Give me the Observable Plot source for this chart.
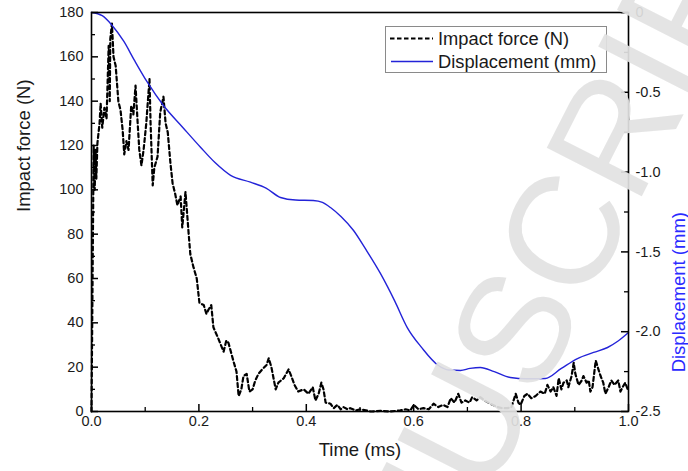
<!DOCTYPE html>
<html>
<head>
<meta charset="utf-8">
<script src="https://cdn.jsdelivr.net/npm/d3@7"></script>
<script src="https://cdn.jsdelivr.net/npm/@observablehq/plot@0.6"></script>
<style>
  html, body { margin: 0; padding: 0; background: #fff; }
  #wrap { position: relative; width: 688px; height: 471px; overflow: hidden; }
  #overlay { position: absolute; left: 0; top: 0; pointer-events: none; }
</style>
</head>
<body>
<div id="wrap"><div id="chart"></div></div>
<script>
// ---------- data ----------
const forceT = [0,0.002,0.004,0.006,0.0075,0.009,0.011,0.015,0.017,0.020,0.024,0.028,0.032,0.034,0.035,0.038,0.041,0.045,0.050,0.054,0.058,0.061,0.065,0.069,0.074,0.078,0.082,0.086,0.089,0.093,0.097,0.102,0.108,0.110,0.114,0.117,0.123,0.128,0.134,0.138,0.142,0.147,0.151,0.156,0.160,0.166,0.169,0.175,0.181,0.184,0.190,0.196,0.201,0.209,0.214,0.218,0.223,0.227,0.236,0.246,0.251,0.255,0.264,0.270,0.274,0.279,0.283,0.289,0.294,0.300,0.305,0.311,0.318,0.326,0.330,0.335,0.343,0.348,0.358,0.367,0.372,0.378,0.385,0.395,0.404,0.412,0.417,0.423,0.428,0.432,0.436,0.445,0.451,0.458,0.464,0.469,0.477,0.482,0.492,0.501,0.520,0.538,0.557,0.575,0.585,0.594,0.600,0.609,0.618,0.628,0.637,0.646,0.655,0.663,0.669,0.676,0.683,0.689,0.696,0.704,0.709,0.717,0.724,0.732,0.739,0.747,0.756,0.765,0.775,0.782,0.790,0.795,0.799,0.806,0.812,0.819,0.827,0.836,0.844,0.849,0.855,0.860,0.866,0.870,0.875,0.879,0.885,0.888,0.894,0.898,0.901,0.907,0.913,0.916,0.922,0.926,0.929,0.933,0.939,0.944,0.948,0.953,0.957,0.963,0.968,0.974,0.981,0.985,0.989,0.994,1.000];
const forceN = [0,60,120,100,118,105,121,130,139,128,137,132,165,140,168,175,160,156,140,136,127,116,122,118,138,134,147,130,118,111,118,130,150,130,102,110,115,135,142,130,126,112,103,98,93,97,83,99,80,71,65,60,49,48,44,46,48,38,33,27,32,31,23,18,7,10,16,17,9,10,14,17,19,21,24,20,10,13,15,19,16,12,9,10,8,11,5,8,13,10,4,3.5,1.5,3,1,2,1,1.5,0.5,1,0,0.3,0,0.5,1,0.5,3,1,1.5,1,3.5,2,3,2,6,4,8,4,5,4,6.5,5,6.5,5,4,3,2,1.5,1.5,2,8,4,3,7,8,6,7,9,8,12,9,11,7,15,10,13,14,11,16,22,17,12,14,16,13,14,9,11,23,19,16,13,8,11,14,12,14,9,11,13,9];

const dispT  = [0,0.02,0.0385,0.06,0.08,0.104,0.134,0.17,0.203,0.23,0.259,0.296,0.325,0.352,0.38,0.413,0.43,0.445,0.465,0.488,0.51,0.538,0.565,0.588,0.615,0.646,0.665,0.687,0.705,0.724,0.75,0.78,0.81,0.845,0.875,0.905,0.935,0.961,0.98,1.0];
const dispMM = [0,-0.02,-0.081,-0.18,-0.30,-0.437,-0.583,-0.72,-0.844,-0.94,-1.02,-1.063,-1.10,-1.159,-1.175,-1.178,-1.19,-1.222,-1.28,-1.366,-1.48,-1.635,-1.81,-1.974,-2.10,-2.212,-2.24,-2.243,-2.23,-2.224,-2.25,-2.287,-2.295,-2.293,-2.23,-2.168,-2.13,-2.099,-2.06,-2.005];

const xMajor = [0,0.2,0.4,0.6,0.8,1.0];
const xMinor = [0.1,0.3,0.5,0.7,0.9];
const yMajor = [0,20,40,60,80,100,120,140,160,180];
const yMinor = [10,30,50,70,90,110,130,150,170];
const rMajor = [0,-0.5,-1.0,-1.5,-2.0,-2.5];
const rMinor = [-0.25,-0.75,-1.25,-1.75,-2.25];

const titleX = "Time (ms)";
const titleYL = "Impact force (N)";
const titleYR = "Displacement (mm)";
const legendLabels = ["Impact force (N)", "Displacement (mm)"];
const watermark = "MANUSCRIPT";

// ---------- build ----------
const W = 688, H = 471, mL = 91, mR = 60, mT = 12, mB = 60;
const iw = W - mL - mR, ih = H - mT - mB;
const FMAX = 180, DMIN = -2.5;
const toF = d => (d - DMIN) / (0 - DMIN) * FMAX;
const fromF = f => f / FMAX * (0 - DMIN) + DMIN;

const force = forceT.map((t, i) => ({t, f: forceN[i]}));
const disp = dispT.map((t, i) => ({t, f: toF(dispMM[i])}));

const blue = "#2323d8";
const fontFamily = "'Liberation Sans', Arial, sans-serif";

const chart = Plot.plot({
  width: W, height: H,
  marginLeft: mL, marginRight: mR, marginTop: mT, marginBottom: mB,
  style: {fontFamily, fontSize: "14.5px", color: "#1a1a1a", background: "#fff"},
  x: {domain: [0, 1]},
  y: {domain: [0, FMAX]},
  marks: [
    Plot.line(force, {x: "t", y: "f", stroke: "#000", strokeWidth: 2.2, strokeDasharray: "4,3"}),
    Plot.line(disp, {x: "t", y: "f", stroke: blue, strokeWidth: 1.4, curve: "monotone-x"}),
    Plot.frame({stroke: "#000", strokeWidth: 1.6}),
    Plot.tickX(xMajor, {x: d => d, insetTop: ih - 7, stroke: "#000", strokeWidth: 1.5}),
    Plot.tickX(xMinor, {x: d => d, insetTop: ih - 4, stroke: "#000", strokeWidth: 1.3}),
    Plot.tickY(yMajor, {y: d => d, insetRight: iw - 7, stroke: "#000", strokeWidth: 1.5}),
    Plot.tickY(yMinor, {y: d => d, insetRight: iw - 4, stroke: "#000", strokeWidth: 1.3}),
    Plot.tickY(rMajor.map(toF), {y: d => d, insetLeft: iw - 7, stroke: "#000", strokeWidth: 1.5}),
    Plot.tickY(rMinor.map(toF), {y: d => d, insetLeft: iw - 4, stroke: "#000", strokeWidth: 1.3}),
    Plot.axisX(xMajor, {tickSize: 0, tickPadding: 4, fontSize: 14.5, tickFormat: d => d.toFixed(1), label: null}),
    Plot.axisY(yMajor, {anchor: "left", tickSize: 0, tickPadding: 8, fontSize: 14.5, label: null}),
    Plot.axisY(rMajor.map(toF), {anchor: "right", tickSize: 0, tickPadding: 7, fontSize: 14.5, label: null,
      tickFormat: v => { const d = Math.round(fromF(v) * 10) / 10; return d === 0 ? "0" : (d < 0 ? "-" : "") + Math.abs(d).toFixed(1); }}),
    Plot.text([titleX], {text: d => d, frameAnchor: "bottom", dy: 44, fontSize: 18.5, fill: "#1a1a1a"}),
    Plot.text([titleYL], {text: d => d, frameAnchor: "left", dx: -67, rotate: -90, fontSize: 18.5, fill: "#1a1a1a"}),
    Plot.text([titleYR], {text: d => d, frameAnchor: "right", dx: 51, rotate: -90, fontSize: 18.5, fill: "#2a2aff"})
  ]
});
document.getElementById("chart").appendChild(chart);

// ---------- legend + watermark overlay ----------
const ov = d3.select("#wrap").append("svg").attr("id", "overlay").attr("width", W).attr("height", H)
  .attr("font-family", fontFamily);
const lg = ov.append("g");
lg.append("rect").attr("x", 385.5).attr("y", 26.5).attr("width", 221).attr("height", 46)
  .attr("fill", "#fff").attr("stroke", "#8a8a8a").attr("stroke-width", 1);
lg.append("line").attr("x1", 390).attr("x2", 433).attr("y1", 38.5).attr("y2", 38.5)
  .attr("stroke", "#000").attr("stroke-width", 2.2).attr("stroke-dasharray", "4.5,2.5");
lg.append("line").attr("x1", 391).attr("x2", 433).attr("y1", 61.5).attr("y2", 61.5)
  .attr("stroke", blue).attr("stroke-width", 1.4);
lg.append("text").attr("x", 438).attr("y", 44.5).attr("font-size", 18.3).attr("fill", "#1a1a1a").text(legendLabels[0]);
lg.append("text").attr("x", 438).attr("y", 67.5).attr("font-size", 18.3).attr("fill", "#1a1a1a").text(legendLabels[1]);

ov.append("text").attr("transform", "translate(331,806) rotate(-63)")
  .attr("font-size", 155).attr("fill", "#e2e2e2").attr("fill-opacity", 0.92).text(watermark);
</script>
</body>
</html>
